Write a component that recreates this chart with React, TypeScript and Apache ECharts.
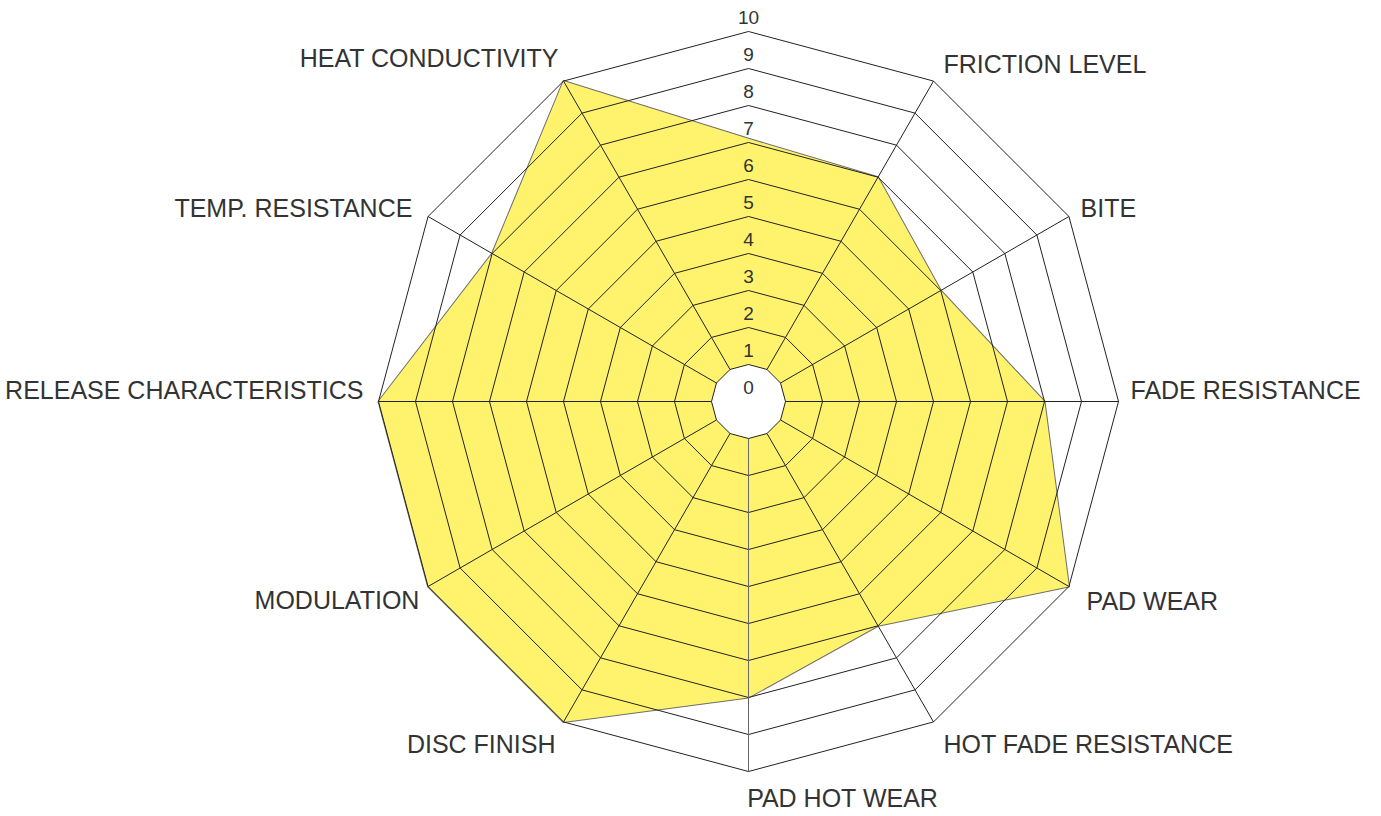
import React, { useEffect, useRef } from 'react';
import * as echarts from 'echarts';

// ---- data (counter-clockwise from the top axis, as ECharts radar lays them out) ----
const INDICATORS = [
  '',
  'HEAT CONDUCTIVITY',
  'TEMP. RESISTANCE',
  'RELEASE CHARACTERISTICS',
  'MODULATION',
  'DISC FINISH',
  'PAD HOT WEAR',
  'HOT FADE RESISTANCE',
  'PAD WEAR',
  'FADE RESISTANCE',
  'BITE',
  'FRICTION LEVEL',
];
const VALUES = [7.1, 10, 8, 10, 10, 10, 8, 7, 10, 8, 6, 7];
const SCALE_MIN = 0;
const SCALE_MAX = 10;
const SCALE_STEP = 1;

// ---- layout / style ----
const CX = 748.5;
const CY = 401.5;
const R = 370;
const TICK_LIFT = 14;
const FONT = 'Liberation Sans, Arial, Helvetica, sans-serif';
const TEXT_COLOR = '#333333';
const LINE_COLOR = '#222222';
const FILL = '#fff36e';
const NAME_SIZE = 25;

// padding [top, right, bottom, left] used to nudge each axis name
const NAME_PAD: Record<string, number[]> = {
  'FRICTION LEVEL': [0, 0, 16, 5],
  'BITE': [0, 0, 7, 3],
  'FADE RESISTANCE': [0, 0, 24, 2],
  'PAD WEAR': [19, 0, 0, 9],
  'HOT FADE RESISTANCE': [26, 0, 0, 5],
  'PAD HOT WEAR': [4, 0, 0, 188],
  'DISC FINISH': [26, 3, 0, 0],
  'MODULATION': [17, 0, 0, 0],
  'RELEASE CHARACTERISTICS': [0, 5, 24, 0],
  'TEMP. RESISTANCE': [0, 7, 7, 0],
  'HEAT CONDUCTIVITY': [0, 0, 28, 0],
};

export default function App() {
  const ref = useRef<HTMLDivElement>(null);
  useEffect(() => {
    if (!ref.current) return;
    const chart = echarts.init(ref.current, null, { renderer: 'svg' });

    const rich: Record<string, any> = {};
    INDICATORS.forEach((name, i) => {
      rich['n' + i] = {
        fontSize: NAME_SIZE,
        fontFamily: FONT,
        color: TEXT_COLOR,
        padding: NAME_PAD[name] || [0, 0, 0, 0],
      };
    });

    const nBands = (SCALE_MAX - SCALE_MIN) / SCALE_STEP;
    const bandColors = [];
    for (let i = 0; i < nBands; i++) bandColors.push(i === 0 ? '#ffffff' : 'rgba(0,0,0,0)');

    const spokeColors = INDICATORS.map((_, i) =>
      i === 0 ? 'rgba(0,0,0,0)' : i === INDICATORS.length / 2 ? '#666666' : LINE_COLOR
    );

    const option: any = {
      animation: false,
      backgroundColor: '#ffffff',
      radar: {
        center: [CX, CY],
        radius: R,
        startAngle: 90,
        shape: 'polygon',
        splitNumber: nBands,
        z: 5,
        indicator: INDICATORS.map((name) => ({ name, min: SCALE_MIN, max: SCALE_MAX })),
        axisNameGap: 10,
        axisName: {
          color: TEXT_COLOR,
          fontSize: NAME_SIZE,
          fontFamily: FONT,
          rich,
          formatter: (name: string) => {
            if (!name) return '';
            const i = INDICATORS.indexOf(name);
            return '{n' + i + '|' + name + '}';
          },
        },
        axisLine: { show: false },
        axisTick: { show: false },
        axisLabel: { show: false },
        splitLine: { show: true, lineStyle: { color: LINE_COLOR, width: 1 } },
        splitArea: { show: true, areaStyle: { color: bandColors } },
      },
      polar: {
        center: [CX, CY],
        radius: [R / nBands, R],
      },
      angleAxis: {
        type: 'category',
        data: INDICATORS.map((n, i) => n || 'axis' + i),
        startAngle: 90,
        boundaryGap: false,
        z: 6,
        axisLine: { show: false },
        axisTick: { show: false, interval: 0 },
        axisLabel: { show: false, interval: 0 },
        splitLine: { show: true, lineStyle: { color: spokeColors, width: 1 } },
        splitArea: { show: false },
      },
      radiusAxis: {
        type: 'value',
        show: false,
        min: SCALE_MIN,
        max: SCALE_MAX,
        splitLine: { show: false },
        axisLine: { show: false },
        axisLabel: { show: false },
      },
      grid: {
        left: CX,
        top: CY - R - TICK_LIFT,
        width: 1,
        height: R,
        containLabel: false,
      },
      xAxis: { type: 'value', show: false },
      yAxis: {
        type: 'value',
        min: SCALE_MIN,
        max: SCALE_MAX,
        interval: SCALE_STEP,
        z: 8,
        axisLine: { show: false },
        axisTick: { show: false },
        splitLine: { show: false },
        axisLabel: {
          show: true,
          align: 'center',
          margin: 0,
          fontSize: 19,
          fontFamily: FONT,
          color: TEXT_COLOR,
        },
      },
      series: [
        {
          type: 'radar',
          radarIndex: 0,
          z: 2,
          silent: true,
          symbol: 'none',
          lineStyle: { color: '#6e6e6e', width: 2 },
          areaStyle: { color: FILL, opacity: 1 },
          data: [{ value: VALUES, name: 'Rating' }],
        },
      ],
    };

    chart.setOption(option);
    return () => chart.dispose();
  }, []);

  return (
    <div
      ref={ref}
      style={{ position: 'absolute', left: 0, top: 0, width: 1381, height: 816 }}
    />
  );
}
